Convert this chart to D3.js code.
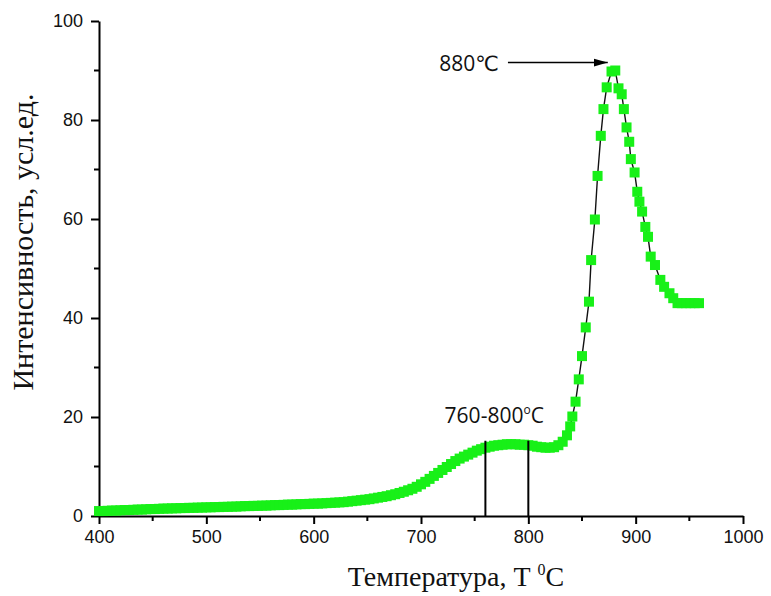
<!DOCTYPE html>
<html>
<head>
<meta charset="utf-8">
<script src="https://cdn.jsdelivr.net/npm/d3@7"></script>
<style>
  html, body { margin: 0; padding: 0; background: #fff; }
  svg { display: block; }
</style>
</head>
<body>
<svg id="chart" width="771" height="596"></svg>
<script>
// Temperature (°C) of each measured point
const temps = [
  400, 404, 408, 412, 416, 420, 424, 428, 432, 436, 440, 444, 448, 452, 456, 460,
  464, 468, 472, 476, 480, 484, 488, 492, 496, 500, 504, 508, 512, 516, 520, 524,
  528, 532, 536, 540, 544, 548, 552, 556, 560, 564, 568, 572, 576, 580, 584, 588,
  592, 596, 600, 604, 608, 612, 616, 620, 624, 628, 632, 636, 640, 644, 648, 652,
  656, 660, 664, 668, 672, 676, 680, 684, 688, 692, 696, 700, 704, 708, 712, 716,
  720, 724, 728, 732, 736, 740, 744, 748, 752, 756, 760, 764, 768, 772, 776, 780,
  784, 788, 792, 796, 800, 804, 808, 812, 816, 820, 824, 828, 832, 836, 839,
  841, 844, 847, 850, 853.5, 856.5, 858.5, 862, 864.5, 867.5, 870, 873, 877.5, 881,
  884, 887, 889, 891.5, 894, 895.5, 899, 901.5, 903.5, 906, 909, 911.5, 914, 918,
  923, 926.5, 931.5, 935, 939, 943, 947, 951, 955, 959
];

// Intensity (arb. units) at each temperature
const intensity = [
  1.0, 1.0, 1.05, 1.1, 1.1, 1.15, 1.2, 1.2, 1.25, 1.3, 1.3, 1.35, 1.4, 1.4, 1.45, 1.5,
  1.5, 1.55, 1.55, 1.6, 1.6, 1.65, 1.65, 1.7, 1.7, 1.75, 1.75, 1.8, 1.8, 1.85, 1.85, 1.9,
  1.9, 1.95, 2.0, 2.0, 2.05, 2.05, 2.1, 2.1, 2.15, 2.2, 2.2, 2.25, 2.3, 2.3, 2.35, 2.4,
  2.4, 2.45, 2.5, 2.5, 2.55, 2.6, 2.65, 2.7, 2.75, 2.8, 2.9, 3.0, 3.1, 3.2, 3.3, 3.4,
  3.55, 3.7, 3.85, 4.0, 4.2, 4.4, 4.65, 4.9, 5.2, 5.5, 5.9, 6.4, 6.9, 7.5, 8.1, 8.7,
  9.3, 9.9, 10.5, 11.1, 11.6, 12.0, 12.4, 12.8, 13.2, 13.5, 13.8, 14.0, 14.2, 14.3, 14.4, 14.5,
  14.5, 14.5, 14.4, 14.4, 14.3, 14.2, 14.0, 13.9, 13.8, 13.8, 13.9, 14.3, 15.0, 16.3, 18.1,
  20.1, 23.1, 27.6, 32.3, 38.1, 43.3, 51.7, 59.9, 68.7, 76.8, 82.2, 86.6, 89.8, 90.0,
  86.4, 85.2, 82.2, 78.5, 75.6, 72.1, 69.4, 65.5, 63.5, 61.5, 58.4, 56.4, 52.4, 50.7,
  47.7, 46.3, 45.0, 44.0, 43.0, 43.0, 43.0, 43.0, 43.0, 43.0
];

// Axis ticks
const xTicks = [400, 500, 600, 700, 800, 900, 1000];
const xMinorTicks = [450, 550, 650, 750, 850, 950];
const yTicks = [0, 20, 40, 60, 80, 100];
const yMinorTicks = [10, 30, 50, 70, 90];

// Titles and annotations
const xTitle = "Температура, Т ";
const xTitleSup = "0";
const xTitleUnit = "C";
const yTitle = "Интенсивность, усл.ед.";
const peakLabel = "880℃";
const peakArrow = [781, 874];      // start / tip temperature of the arrow
const peakArrowLevel = 91.6;
const rangeLabel = "760-800";
const rangeLines = [760, 800];
const rangeLineTop = 15.2;

const svg = d3.select("#chart");
const margin = { left: 99, right: 28, top: 21, bottom: 80 };
const width = 771, height = 596;

const x = d3.scaleLinear().domain([400, 1000]).range([margin.left, width - margin.right]);
const y = d3.scaleLinear().domain([0, 100]).range([height - margin.bottom, margin.top]);

const tickFont = "'Liberation Sans', Arial, sans-serif";
const titleFont = "'Liberation Serif', 'Times New Roman', serif";
const noteFont = "'Open Sans', 'DejaVu Sans', sans-serif";
const green = "#18f018";

// Axes
const xAxis = svg.append("g")
  .attr("transform", `translate(0,${y(0)})`)
  .call(d3.axisBottom(x).tickValues(xTicks).tickSize(8).tickPadding(6).tickSizeOuter(0).tickFormat(d3.format("d")));
xAxis.append("g").selectAll("line").data(xMinorTicks).join("line")
  .attr("x1", d => x(d)).attr("x2", d => x(d)).attr("y1", 0).attr("y2", 5)
  .attr("stroke", "#000");

const yAxis = svg.append("g")
  .attr("transform", `translate(${x(400)},0)`)
  .call(d3.axisLeft(y).tickValues(yTicks).tickSize(8).tickPadding(8).tickSizeOuter(0).tickFormat(d3.format("d")));
yAxis.append("g").selectAll("line").data(yMinorTicks).join("line")
  .attr("x1", 0).attr("x2", -5).attr("y1", d => y(d)).attr("y2", d => y(d))
  .attr("stroke", "#000");

[xAxis, yAxis].forEach(g => {
  g.select(".domain").attr("stroke", "#000").attr("stroke-width", 2);
  g.selectAll("line").attr("stroke", "#000").attr("stroke-width", 2);
  g.selectAll(".tick text")
    .attr("font-family", tickFont).attr("font-size", 18).attr("fill", "#111");
});

// Connecting curve beneath the markers
const pts = temps.map((t, i) => [t, intensity[i]]);
svg.append("path")
  .datum(pts)
  .attr("fill", "none")
  .attr("stroke", "#111")
  .attr("stroke-width", 1.4)
  .attr("d", d3.line().x(d => x(d[0])).y(d => y(d[1])));

// Square markers
const sz = 10;
svg.append("g").selectAll("rect").data(pts).join("rect")
  .attr("x", d => x(d[0]) - sz / 2)
  .attr("y", d => y(d[1]) - sz / 2)
  .attr("width", sz).attr("height", sz)
  .attr("fill", green);

// Vertical markers for the 760–800 °C range
svg.append("g").selectAll("line").data(rangeLines).join("line")
  .attr("x1", d => x(d)).attr("x2", d => x(d))
  .attr("y1", y(0)).attr("y2", y(rangeLineTop))
  .attr("stroke", "#000").attr("stroke-width", 2);

const rl = svg.append("text")
  .attr("x", x(722)).attr("y", y(18.8))
  .attr("font-family", noteFont).attr("font-size", 21).attr("fill", "#111");
rl.append("tspan").text(rangeLabel);
rl.append("tspan").attr("font-size", 12).attr("dy", -9).text("o");
rl.append("tspan").attr("dy", 9).text("C");

// Peak annotation with arrow
svg.append("defs").append("marker")
  .attr("id", "arrowhead")
  .attr("viewBox", "0 0 14 10")
  .attr("refX", 14).attr("refY", 5)
  .attr("markerWidth", 14).attr("markerHeight", 10)
  .attr("markerUnits", "userSpaceOnUse")
  .attr("orient", "auto")
  .append("path").attr("d", "M0,1 L14,5 L0,9 Z").attr("fill", "#000");

svg.append("line")
  .attr("x1", x(peakArrow[0])).attr("x2", x(peakArrow[1]))
  .attr("y1", y(peakArrowLevel)).attr("y2", y(peakArrowLevel))
  .attr("stroke", "#000").attr("stroke-width", 1.5)
  .attr("marker-end", "url(#arrowhead)");

svg.append("text")
  .attr("x", x(peakArrow[0]) - 9).attr("y", y(peakArrowLevel) + 8)
  .attr("text-anchor", "end")
  .attr("font-family", noteFont).attr("font-size", 21).attr("fill", "#111")
  .text(peakLabel);

// Axis titles
const xt = svg.append("text")
  .attr("x", 456).attr("y", 586)
  .attr("text-anchor", "middle")
  .attr("font-family", titleFont).attr("font-size", 28).attr("fill", "#111");
xt.append("tspan").text(xTitle);
xt.append("tspan").attr("font-size", 16).attr("dy", -11).text(xTitleSup);
xt.append("tspan").attr("dy", 11).text(xTitleUnit);

svg.append("text")
  .attr("transform", "translate(33,242) rotate(-90)")
  .attr("text-anchor", "middle")
  .attr("font-family", titleFont).attr("font-size", 30).attr("fill", "#111")
  .text(yTitle);
</script>
</body>
</html>
